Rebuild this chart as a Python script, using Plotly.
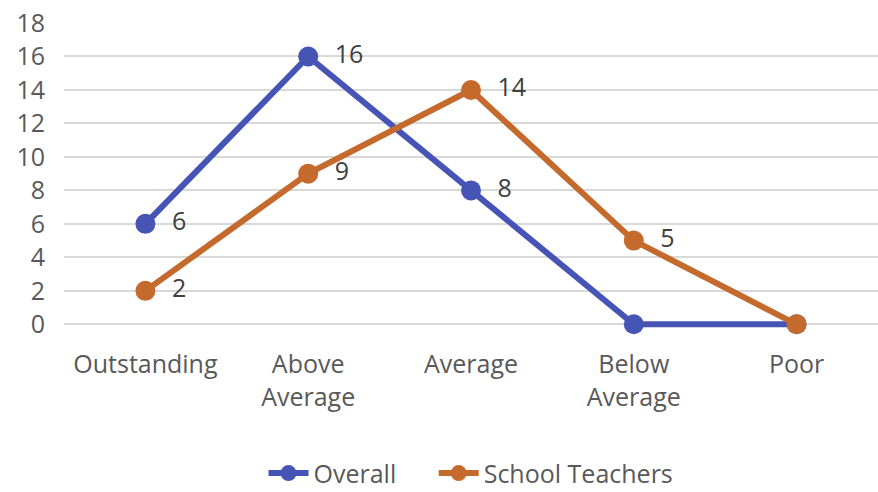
import plotly.graph_objects as go

categories = ["Outstanding", "Above<br>Average", "Average", "Below<br>Average", "Poor"]
overall = [6, 16, 8, 0, 0]
school_teachers = [2, 9, 14, 5, 0]
y_ticks = [0, 2, 4, 6, 8, 10, 12, 14, 16, 18]

FONT = "Open Sans, Noto Sans, sans-serif"
TEXT_COLOR = "#595959"
FONT_SIZE = 25
NBSP = "\u00a0"


def point_labels(values):
    # zero-valued points carry no label; leading spaces push the text off the marker
    return [NBSP * 2 + str(v) if v != 0 else "" for v in values]


series = [
    # (trace name, legend text padding, values, colour)
    ("Overall", NBSP * 5, overall, "#4654B6"),
    ("School Teachers", "", school_teachers, "#C56A2D"),
]

fig = go.Figure()
for name, pad, values, color in series:
    fig.add_trace(go.Scatter(
        x=list(range(len(categories))),
        y=values,
        name=name + pad,
        mode="lines+markers+text",
        line=dict(color=color, width=6),
        marker=dict(color=color, size=20),
        text=point_labels(values),
        textposition="middle right",
        textfont=dict(family=FONT, size=FONT_SIZE, color="#404040"),
        cliponaxis=False,
    ))

fig.update_layout(
    width=878,
    height=492,
    margin=dict(l=64, r=0, t=23, b=161, autoexpand=False),
    paper_bgcolor="white",
    plot_bgcolor="white",
    font=dict(family=FONT, size=FONT_SIZE, color=TEXT_COLOR),
    showlegend=True,
    legend=dict(
        orientation="h",
        x=0.5,
        xanchor="center",
        y=-0.462,
        yanchor="middle",
        font=dict(family=FONT, size=FONT_SIZE, color=TEXT_COLOR),
        itemwidth=40,
    ),
    xaxis=dict(
        tickmode="array",
        tickvals=list(range(len(categories))),
        ticktext=categories,
        range=[-0.5, 4.5],
        showgrid=False,
        zeroline=False,
        showline=False,
        ticks="",
        ticklabelstandoff=16,
        tickfont=dict(family=FONT, size=FONT_SIZE, color=TEXT_COLOR),
    ),
    yaxis=dict(
        range=[-0.4, 18],
        tickmode="array",
        tickvals=y_ticks,
        showgrid=True,
        gridcolor="#D9D9D9",
        gridwidth=2,
        zeroline=False,
        showline=False,
        ticks="",
        ticklabelstandoff=18,
        tickfont=dict(family=FONT, size=FONT_SIZE, color=TEXT_COLOR),
    ),
)

fig.write_html("out.html")
